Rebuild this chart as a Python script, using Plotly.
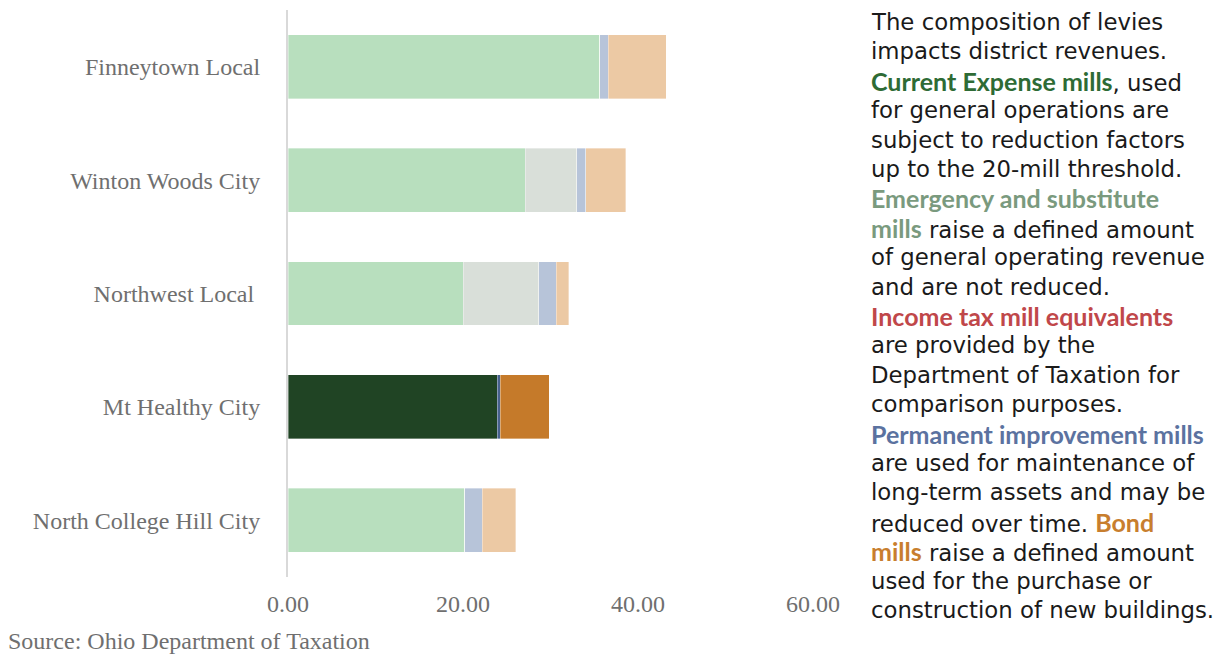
import plotly.graph_objects as go

# ---------------- data ----------------
districts = ["Finneytown Local", "Winton Woods City", "Northwest Local ",
             "Mt Healthy City", "North College Hill City"]
current_expense = [35.6, 27.1, 20.0, 23.9, 20.2]
emergency_substitute = [0.0, 5.9, 8.65, 0.0, 0.0]
permanent_improvement = [1.0, 1.0, 2.0, 0.35, 2.0]
bond = [6.6, 4.6, 1.45, 5.6, 3.85]
highlight = "Mt Healthy City"
x_ticks = [0, 20, 40, 60]
x_tick_labels = ["0.00", "20.00", "40.00", "60.00"]
source_text = "Source: Ohio Department of Taxation"

# ---------------- style ----------------
W, H = 1228, 656
L, R, T, B = 288, 415, 10, 79
PW, PH = W - L - R, H - T - B

series = [
    ("Current Expense", current_expense, "#B8DFBE", "#204424"),
    ("Emergency/Substitute", emergency_substitute, "#D9DFD9", "#7A9A7E"),
    ("Permanent Improvement", permanent_improvement, "#B7C4D9", "#47628E"),
    ("Bond", bond, "#ECC9A4", "#C57A2A"),
]

fig = go.Figure()
for name, vals, light, dark in series:
    colors = [dark if d == highlight else light for d in districts]
    fig.add_trace(go.Bar(
        y=districts, x=vals, orientation="h", name=name,
        marker=dict(color=colors, line=dict(color="rgba(255,255,255,0.6)", width=0.6)),
    ))

serif = "Liberation Serif, Times New Roman, serif"
fig.update_layout(
    width=W, height=H, barmode="stack", bargap=0.436,
    margin=dict(l=L, r=R, t=T, b=B),
    paper_bgcolor="white", plot_bgcolor="white",
    showlegend=False,
    xaxis=dict(range=[0, 60], tickvals=x_ticks, ticktext=x_tick_labels,
               showgrid=False, zeroline=False, showline=False,
               tickfont=dict(family=serif, size=24, color="#6F6F6F"),
               ticks="", ticklabelstandoff=10),
    yaxis=dict(autorange="reversed", showgrid=False, zeroline=False,
               showline=True, linecolor="#D9D9D9", linewidth=2,
               tickfont=dict(family=serif, size=24, color="#6F6F6F"),
               ticks="", ticklabelstandoff=21),
)

def px_x(px):
    return (px - L) / PW

def px_y(py):
    return (H - B - py) / PH

fig.add_annotation(text=source_text, xref="paper", yref="paper",
                   x=px_x(6), y=px_y(641), xanchor="left", yanchor="middle",
                   showarrow=False, font=dict(family=serif, size=24, color="#6F6F6F"))

# right-hand explanatory text
G = "#2E6B35"; E = "#7A9A7E"; RD = "#C0474A"; BL = "#5B72A0"; OR = "#C87E2E"
def b(t, c):
    return f"<b><span style='color:{c};font-family:Lato;font-size:25px'>{t}</span></b>"

lines = [
    "The composition of levies",
    "impacts district revenues.",
    b("Current Expense mills", G) + ", used",
    "for general operations are",
    "subject to reduction factors",
    "up to the 20-mill threshold.",
    b("Emergency and substitute", E),
    b("mills", E) + " raise a defined amount",
    "of general operating revenue",
    "and are not reduced.",
    b("Income tax mill equivalents", RD),
    "are provided by the",
    "Department of Taxation for",
    "comparison purposes.",
    b("Permanent improvement mills", BL),
    "are used for maintenance of",
    "long-term assets and may be",
    "reduced over time. " + b("Bond", OR),
    b("mills", OR) + " raise a defined amount",
    "used for the purchase or",
    "construction of new buildings.",
]
y0, dy = 22, 29.4
for i, ln in enumerate(lines):
    fig.add_annotation(text=ln, xref="paper", yref="paper",
                       x=px_x(869), y=px_y(y0 + i * dy), xanchor="left", yanchor="middle",
                       showarrow=False,
                       font=dict(family="DejaVu Sans", size=22.8, color="#1A1A1A"))

fig.write_html("out.html")
